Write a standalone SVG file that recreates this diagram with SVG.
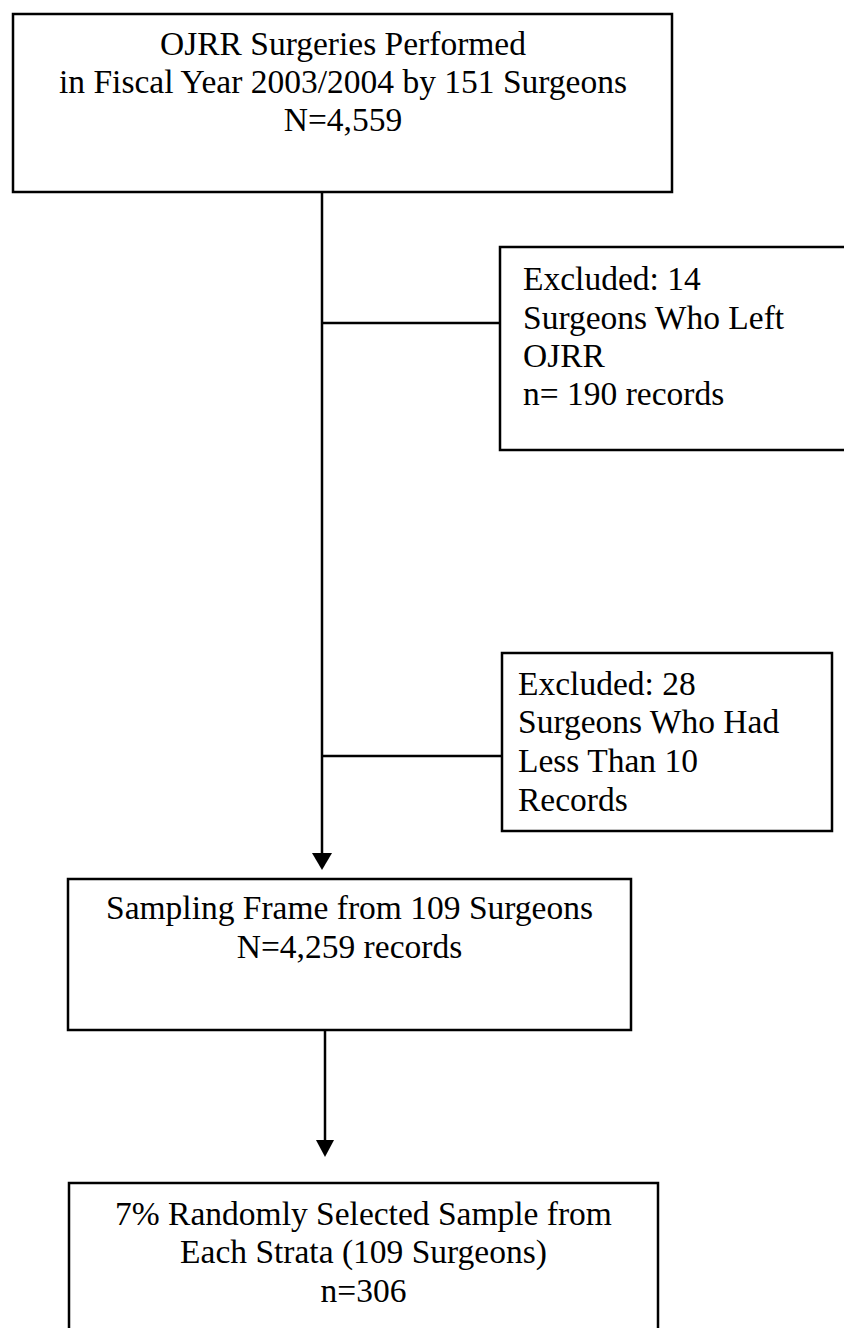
<svg xmlns="http://www.w3.org/2000/svg" width="844" height="1328" viewBox="0 0 844 1328">
<defs>
<style>
.box{fill:#fff;stroke:#000;stroke-width:2.5}
.ln{fill:none;stroke:#000;stroke-width:2.5}
.t{font-family:"Liberation Serif","Times New Roman",serif;font-size:33.5px;fill:#000}
.c{text-anchor:middle}
</style>
<marker id="ah" viewBox="0 0 10 10" refX="10" refY="5" markerWidth="7" markerHeight="7" markerUnits="userSpaceOnUse" orient="auto">
<path d="M0,0 L10,5 L0,10 Z" fill="#000"/>
</marker>
</defs>
<rect width="844" height="1328" fill="#fff"/>
<g id="connectors">
<line class="ln" x1="322" y1="192" x2="322" y2="854"/>
<path d="M312,853 L332,853 L322,870 Z" fill="#000"/>
<line class="ln" x1="322" y1="323" x2="500" y2="323"/>
<line class="ln" x1="322" y1="756" x2="502" y2="756"/>
<line class="ln" x1="325" y1="1030" x2="325" y2="1141"/>
<path d="M316,1140 L334,1140 L325,1157 Z" fill="#000"/>
</g>
<g id="n1">
<rect class="box" x="13" y="14" width="659" height="178"/>
<text class="t c" x="343" y="55">OJRR Surgeries Performed</text>
<text class="t c" x="343" y="93">in Fiscal Year 2003/2004 by 151 Surgeons</text>
<text class="t c" x="343" y="131">N=4,559</text>
</g>
<g id="n2">
<rect class="box" x="500" y="247" width="360" height="203"/>
<text class="t" x="523" y="290">Excluded: 14</text>
<text class="t" x="523" y="329">Surgeons Who Left</text>
<text class="t" x="523" y="367">OJRR</text>
<text class="t" x="523" y="405">n= 190 records</text>
</g>
<g id="n3">
<rect class="box" x="502" y="653" width="330" height="178"/>
<text class="t" x="518" y="695">Excluded: 28</text>
<text class="t" x="518" y="733">Surgeons Who Had</text>
<text class="t" x="518" y="772">Less Than 10</text>
<text class="t" x="518" y="811">Records</text>
</g>
<g id="n4">
<rect class="box" x="68" y="879" width="563" height="151"/>
<text class="t c" x="349.5" y="919">Sampling Frame from 109 Surgeons</text>
<text class="t c" x="349.5" y="958">N=4,259 records</text>
</g>
<g id="n5">
<rect class="box" x="69" y="1183" width="589" height="170"/>
<text class="t c" x="363.5" y="1225">7% Randomly Selected Sample from</text>
<text class="t c" x="363.5" y="1263">Each Strata (109 Surgeons)</text>
<text class="t c" x="363.5" y="1302">n=306</text>
</g>
</svg>
